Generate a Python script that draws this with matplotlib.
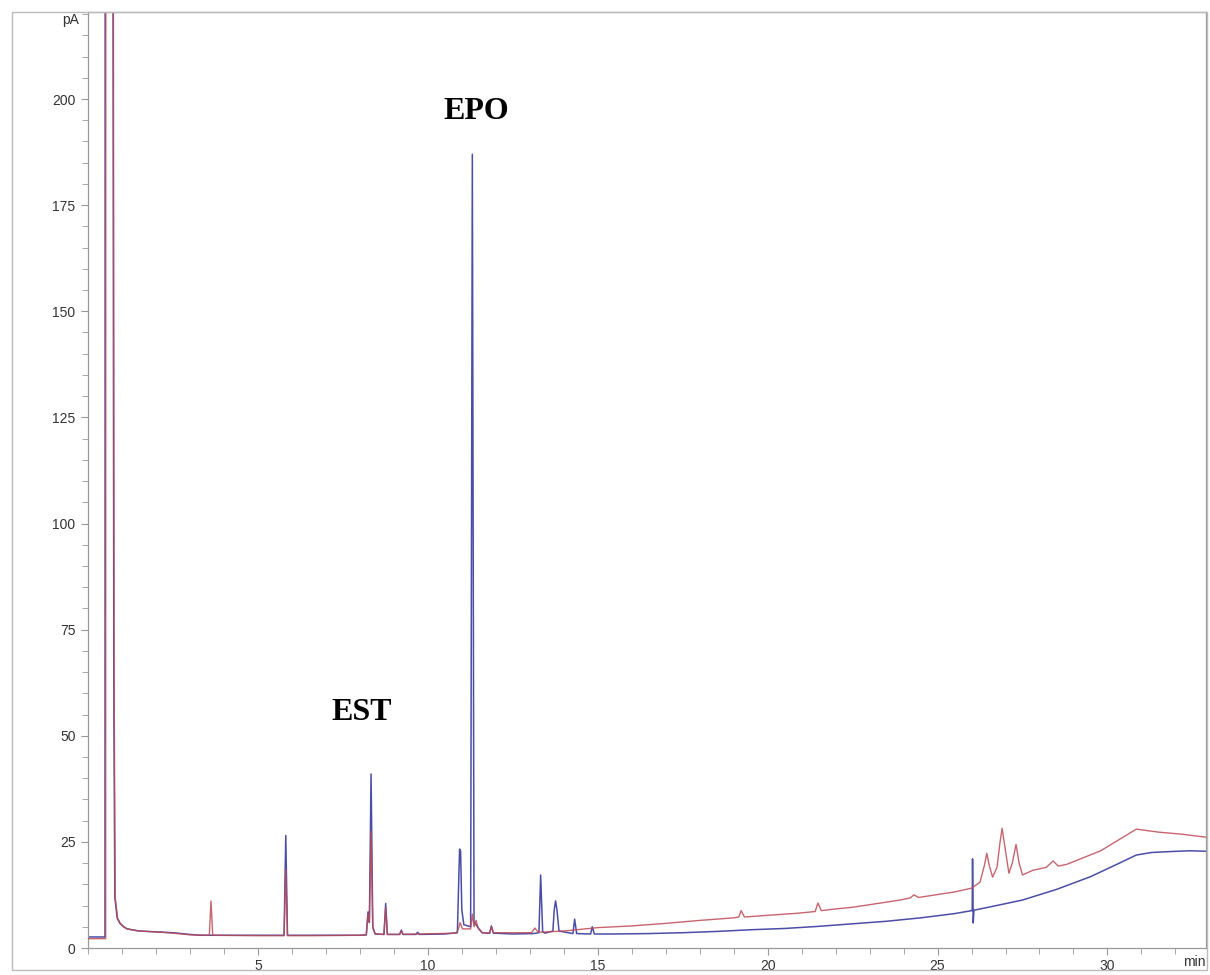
import matplotlib
matplotlib.use("Agg")
import matplotlib.pyplot as plt
from matplotlib.patches import Rectangle
from matplotlib.ticker import MultipleLocator

# ---- Data (time in min, signal in pA) ----
blue_t = [0.00, 0.50, 0.505, 0.735, 0.76, 0.79, 0.86, 0.94, 1.05, 1.15, 1.5, 2.0, 2.5, 3.0, 3.3,
          5.0, 5.77, 5.82, 5.87, 6.5, 7.0, 8.0, 8.19, 8.24, 8.28, 8.33, 8.38, 8.45,
          8.71, 8.76, 8.81, 9.17, 9.22, 9.27, 9.65, 9.70, 9.75, 10.5, 10.87,
          10.91, 10.935, 10.965, 11.00, 11.06, 11.26, 11.31, 11.36, 11.42, 11.50, 11.60,
          11.82, 11.87, 11.93, 12.5, 13.1, 13.27, 13.32, 13.38, 13.45,
          13.68, 13.72, 13.76, 13.80, 13.86, 14.27, 14.32, 14.38, 14.79, 14.84, 14.90,
          15.5, 16.5, 17.5, 18.5, 19.5, 20.5, 21.5, 22.5, 23.5, 24.5, 25.5, 26.0,
          26.02, 26.03, 26.05, 26.07, 26.5, 27.5, 28.5, 29.5, 30.3, 30.85, 31.3, 31.8, 32.4, 32.9]
blue_v = [2.6, 2.6, 240, 240, 60, 12, 7.0, 5.8, 5.0, 4.5, 4.0, 3.8, 3.6, 3.2, 3.0,
          3.0, 3.0, 26.5, 3.0, 3.0, 3.0, 3.0, 3.1, 8.5, 6.0, 41.0, 5.0, 3.3,
          3.2, 10.5, 3.2, 3.2, 4.2, 3.2, 3.2, 3.7, 3.2, 3.3, 3.6,
          16.0, 23.3, 22.8, 9.0, 5.5, 5.0, 187.0, 6.0, 5.5, 4.5, 3.6,
          3.5, 5.2, 3.5, 3.3, 3.4, 3.6, 17.2, 3.8, 3.5,
          4.0, 9.0, 11.1, 9.0, 4.0, 3.4, 6.8, 3.4, 3.3, 5.0, 3.3,
          3.3, 3.4, 3.6, 3.9, 4.3, 4.6, 5.1, 5.7, 6.3, 7.1, 8.1, 8.8,
          8.8, 21.0, 5.9, 8.9, 9.6, 11.3, 13.8, 16.8, 19.8, 21.9, 22.5, 22.7, 22.9, 22.8]

red_t = [0.00, 0.52, 0.525, 0.745, 0.77, 0.80, 0.87, 0.95, 1.05, 1.15, 1.5, 2.0, 2.5, 3.0,
         3.57, 3.62, 3.67, 5.0, 5.77, 5.82, 5.87, 6.5, 8.0, 8.19, 8.24, 8.28, 8.33, 8.38, 8.45,
         8.71, 8.76, 8.81, 9.17, 9.22, 9.27, 10.84, 10.90, 10.95, 11.02, 11.26, 11.31, 11.36,
         11.42, 11.48, 11.60, 11.82, 11.87, 11.93, 13.05, 13.15, 13.25, 14.0, 15.0, 16.0, 17.0,
         18.0, 19.0, 19.15, 19.22, 19.32, 20.0, 20.9, 21.4, 21.48, 21.58, 22.0, 22.5, 23.0,
         23.9, 24.2, 24.3, 24.45, 25.0, 25.5, 26.0, 26.25, 26.38, 26.45, 26.52, 26.62,
         26.75, 26.84, 26.90, 26.96, 27.10, 27.20, 27.31, 27.40, 27.50, 27.8, 28.2, 28.4,
         28.55, 28.8, 29.8, 30.85, 31.5, 32.2, 32.9]
red_v = [2.2, 2.2, 240, 240, 60, 12, 7.0, 5.8, 5.0, 4.5, 4.0, 3.8, 3.5, 3.1,
         3.0, 11.1, 3.0, 2.9, 2.9, 18.5, 2.9, 2.9, 3.0, 3.1, 8.0, 6.0, 27.5, 4.8, 3.3,
         3.2, 9.5, 3.2, 3.2, 4.0, 3.2, 3.5, 4.5, 6.0, 4.5, 4.5, 8.0, 5.0,
         6.5, 4.8, 3.6, 3.5, 5.0, 3.6, 3.6, 4.7, 3.7, 4.0, 4.8, 5.2, 5.8,
         6.5, 7.1, 7.3, 8.8, 7.3, 7.7, 8.2, 8.6, 10.6, 8.8, 9.2, 9.6, 10.2,
         11.3, 11.8, 12.5, 11.9, 12.6, 13.2, 14.1, 15.5, 19.5, 22.3, 19.5, 16.7,
         19.0, 25.0, 28.2, 25.0, 17.6, 20.0, 24.4, 20.0, 17.2, 18.3, 19.0, 20.5,
         19.3, 19.7, 22.9, 28.0, 27.3, 26.8, 26.1]

peak_labels = ["EST", "EPO"]
label_x = [8.06, 11.44]
label_y = [55.5, 197.0]

x_major = [5, 10, 15, 20, 25, 30]
y_major = [0, 25, 50, 75, 100, 125, 150, 175, 200]

# ---- Figure ----
W, H = 1210, 975
fig = plt.figure(figsize=(W / 100, H / 100), dpi=100)
plt.rcParams['font.family'] = ['Liberation Sans', 'DejaVu Sans']

ax = fig.add_axes([88 / W, (H - 948) / H, (1206 - 88) / W, (948 - 12) / H])

ax.plot(blue_t, blue_v, color='#4a4ea6', lw=1.1, solid_joinstyle='round', zorder=2)
ax.plot(red_t, red_v, color='#bd4a55', lw=1.0, alpha=0.85, solid_joinstyle='round', zorder=3)

ax.set_xlim(0, 32.9)
ax.set_ylim(0, 220.5)

ax.set_xticks(x_major)
ax.set_yticks(y_major)
ax.xaxis.set_minor_locator(MultipleLocator(1))
ax.yaxis.set_minor_locator(MultipleLocator(5))
ax.tick_params(axis='both', which='both', direction='out', color='#999999',
               labelcolor='#333333', labelsize=10)
ax.tick_params(axis='both', which='major', length=5, width=0.8)
ax.tick_params(axis='both', which='minor', length=4, width=0.6)
ax.tick_params(axis='y', pad=4)
ax.tick_params(axis='x', pad=3)

for s in ax.spines.values():
    s.set_color('#999999')
    s.set_linewidth(0.9)

ax.text(-0.008, 218.5, 'pA', transform=ax.get_yaxis_transform(), ha='right', va='center',
        fontsize=10, color='#333333')
ax.text(1.0, -0.008, 'min', transform=ax.transAxes, ha='right', va='top',
        fontsize=10, color='#333333')

for lab, lx, ly in zip(peak_labels, label_x, label_y):
    ax.text(lx, ly, lab, ha='center', va='center', fontsize=23, fontweight='bold',
            family=['Liberation Serif', 'DejaVu Serif'], color='black')

# outer frame
fig.patches.append(Rectangle((12 / W, (H - 970) / H), (1207 - 12) / W, (970 - 12) / H,
                             transform=fig.transFigure, fill=False,
                             edgecolor='#bbbbbb', lw=1.0))

fig.savefig('out.png', dpi=100)
